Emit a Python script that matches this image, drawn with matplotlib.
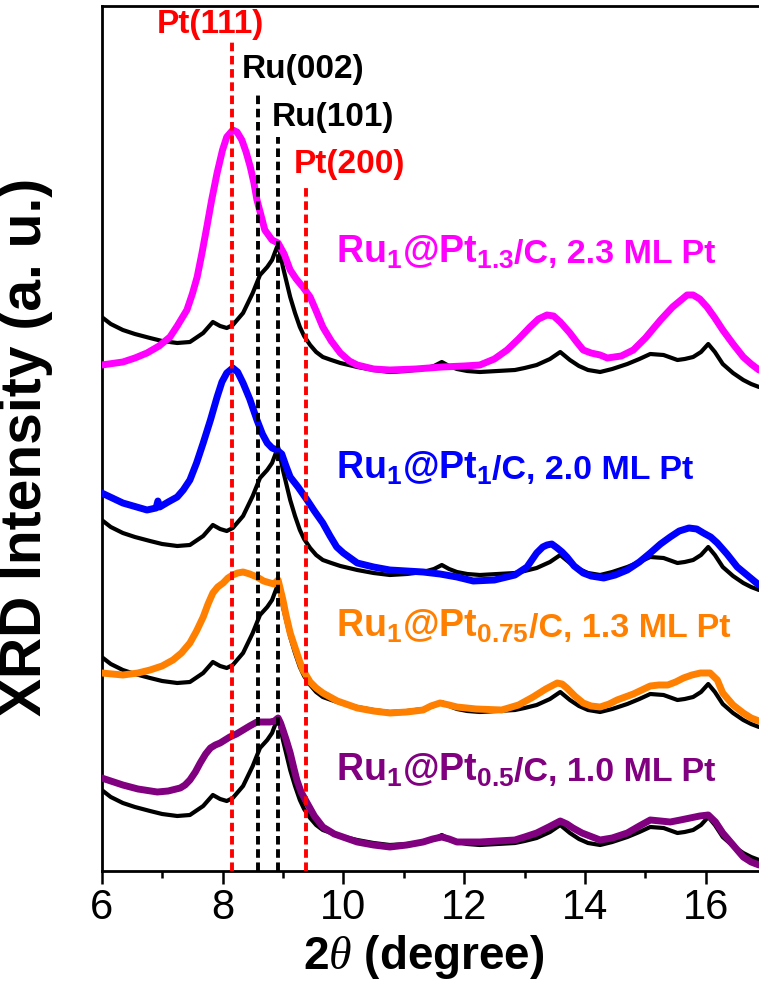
import numpy as np
import matplotlib
matplotlib.use("Agg")
import matplotlib.pyplot as plt

plt.rcParams['font.family'] = 'Liberation Sans'
plt.rcParams['mathtext.fontset'] = 'custom'
plt.rcParams['mathtext.rm'] = 'Liberation Sans'
plt.rcParams['mathtext.bf'] = 'Liberation Sans:bold'
plt.rcParams['mathtext.it'] = 'Liberation Serif:italic'

# Ru/C reference pattern (bottom copy), 2theta in degree, intensity a.u.
ru_x = [6.00, 6.15, 6.35, 6.55, 6.80, 7.00, 7.25, 7.46, 7.68, 7.84, 7.96, 8.07, 8.17, 8.34, 8.50,
        8.62, 8.74, 8.82, 8.92, 9.00, 9.12, 9.20, 9.28, 9.35, 9.45, 9.55, 9.66, 9.80, 9.95, 10.23,
        10.50, 10.77, 11.05, 11.32, 11.50, 11.63, 11.75, 11.88, 12.05, 12.26, 12.55, 12.84, 13.00,
        13.20, 13.42, 13.59, 13.75, 13.90, 14.05, 14.25, 14.45, 14.70, 14.90, 15.08, 15.30, 15.53,
        15.65, 15.79, 15.92, 16.04, 16.15, 16.28, 16.45, 16.62, 16.75, 16.88]
ru_y = [81, 74, 68, 64, 60, 57, 55, 56, 65, 76, 72, 70, 73, 85, 105,
        123, 131, 138, 154, 131, 101, 85, 71, 62, 53, 46, 41, 38, 35, 31,
        28, 26, 27, 29, 32, 36, 32, 29, 27, 26, 27, 28, 30,
        33, 39, 46, 38, 32, 28, 26, 29, 34, 39, 44, 43, 38,
        39, 41, 46, 54, 46, 34, 25, 18, 14, 11]
ru_offsets = [0, 133, 270, 473]

# Ru1@Pt0.5/C
pt05_x = [6.00, 6.15, 6.35, 6.60, 6.92, 7.10, 7.30, 7.38, 7.46, 7.55, 7.63, 7.72, 7.80, 7.88, 7.96,
          8.04, 8.12, 8.23, 8.34, 8.45, 8.57, 8.68, 8.79, 8.86, 8.92, 8.96, 9.00, 9.06, 9.12, 9.18,
          9.23, 9.30, 9.40, 9.52, 9.66, 9.85, 10.23, 10.50, 10.77, 11.05, 11.32, 11.48, 11.63,
          11.75, 11.88, 12.05, 12.26, 12.55, 12.84, 13.00, 13.20, 13.40, 13.59, 13.70, 13.80,
          13.95, 14.25, 14.45, 14.70, 14.90, 15.08, 15.25, 15.41, 15.58, 15.74, 15.90, 16.04,
          16.16, 16.28, 16.45, 16.62, 16.75, 16.88]
pt05_y = [93, 90, 86, 82, 79, 80, 83, 86, 91, 99, 108, 117, 123, 126, 128,
          131, 134, 137, 141, 145, 149, 149, 149, 150, 153, 148, 141, 130, 118, 103,
          91, 79, 68, 55, 44, 37, 29, 26, 24, 26, 29, 32, 34,
          32, 29, 29, 29, 30, 31, 34, 38, 44, 50, 47, 43,
          38, 31, 33, 38, 45, 51, 50, 49, 51, 53, 55, 56,
          49, 38, 26, 14, 9, 6]

# Ru1@Pt0.75/C
pt075_x = [6.00, 6.35, 6.60, 6.80, 7.00, 7.18, 7.32, 7.46, 7.57, 7.68, 7.76, 7.84, 7.92, 8.01, 8.09,
           8.17, 8.25, 8.34, 8.45, 8.57, 8.68, 8.79, 8.85, 8.92, 9.00, 9.05, 9.12, 9.18, 9.23, 9.28,
           9.33, 9.45, 9.55, 9.66, 9.90, 10.23, 10.50, 10.77, 11.05, 11.32, 11.45, 11.60, 11.75,
           11.88, 12.20, 12.62, 12.90, 13.14, 13.35, 13.54, 13.62, 13.70, 13.83, 13.97, 14.10,
           14.25, 14.40, 14.53, 14.80, 15.08, 15.22, 15.37, 15.50, 15.63, 15.77, 15.91, 15.99,
           16.07, 16.19, 16.28, 16.45, 16.62, 16.75, 16.88]
pt075_y = [198, 196, 198, 201, 205, 211, 218, 228, 240, 254, 267, 278, 284, 288, 293,
           296, 298, 299, 297, 294, 290, 288, 287, 291, 271, 256, 238, 227, 218, 209,
           201, 189, 183, 178, 170, 163, 160, 158, 159, 161, 165, 168, 166,
           164, 162, 161, 166, 174, 182, 188, 187, 183, 175, 168, 165,
           164, 167, 171, 177, 185, 186, 186, 189, 193, 196, 198, 198,
           198, 191, 178, 166, 158, 153, 150]

# Ru1@Pt1/C
pt1_x = [6.00, 6.35, 6.75, 6.90, 6.93, 6.96, 7.10, 7.25, 7.35, 7.46, 7.57, 7.68, 7.80, 7.91, 7.99,
         8.07, 8.17, 8.25, 8.34, 8.45, 8.57, 8.66, 8.74, 8.82, 8.90, 8.98, 9.05, 9.12, 9.25, 9.40,
         9.52, 9.66, 9.78, 9.89, 10.00, 10.23, 10.50, 10.77, 11.32, 11.60, 11.88, 12.15, 12.50,
         12.84, 13.04, 13.12, 13.20, 13.30, 13.37, 13.45, 13.54, 13.62, 13.70, 13.82, 13.97,
         14.10, 14.31, 14.50, 14.70, 14.90, 15.08, 15.25, 15.41, 15.56, 15.72, 15.85, 15.96,
         16.08, 16.19, 16.35, 16.52, 16.70, 16.88]
pt1_y = [378, 368, 361, 363, 370, 364, 369, 374, 381, 391, 408, 428, 451, 474, 489,
         498, 503, 499, 488, 472, 451, 437, 428, 423, 421, 417, 405, 394, 384, 371,
         360, 348, 335, 324, 318, 308, 304, 301, 299, 297, 294, 290, 291,
         296, 304, 311, 318, 324, 326, 327, 323, 319, 314, 305, 298,
         295, 293, 296, 301, 309, 318, 327, 334, 340, 343, 342, 338,
         334, 328, 317, 304, 295, 286]

# Ru1@Pt1.3/C
pt13_x = [6.00, 6.35, 6.55, 6.75, 6.95, 7.13, 7.25, 7.41, 7.50, 7.58, 7.66, 7.74, 7.82, 7.91, 8.00,
          8.07, 8.17, 8.24, 8.32, 8.39, 8.46, 8.52, 8.57, 8.64, 8.70, 8.76, 8.82, 8.92, 9.02, 9.12,
          9.22, 9.33, 9.45, 9.55, 9.66, 9.80, 9.95, 10.10, 10.23, 10.50, 10.77, 11.20, 11.63,
          12.00, 12.26, 12.50, 12.71, 12.90, 13.09, 13.23, 13.37, 13.48, 13.59, 13.75, 13.85,
          13.97, 14.10, 14.25, 14.37, 14.60, 14.80, 15.00, 15.25, 15.45, 15.69, 15.79, 15.90,
          16.02, 16.15, 16.28, 16.45, 16.62, 16.75, 16.88]
pt13_y = [506, 509, 513, 518, 525, 534, 545, 561, 577, 594, 618, 644, 671, 698, 721,
          734, 741, 739, 731, 719, 704, 688, 671, 655, 641, 636, 631, 628, 617, 601,
          592, 584, 574, 560, 544, 530, 518, 510, 506, 502, 501, 502, 504,
          505, 506, 512, 521, 532, 544, 552, 556, 555, 549, 538, 530,
          521, 518, 516, 513, 515, 521, 533, 551, 564, 576, 576, 572,
          564, 553, 541, 527, 514, 507, 501]

sample_x = [pt05_x, pt075_x, pt1_x, pt13_x]
sample_y = [pt05_y, pt075_y, pt1_y, pt13_y]
sample_colors = ['#800080', '#FF8000', '#0000FF', '#FF00FF']
sample_names = [r'$\mathbf{Ru_1@Pt_{0.5}}$', r'$\mathbf{Ru_1@Pt_{0.75}}$',
                r'$\mathbf{Ru_1@Pt_1}$', r'$\mathbf{Ru_1@Pt_{1.3}}$']
sample_notes = ['/C, 1.0 ML Pt', '/C, 1.3 ML Pt', '/C, 2.0 ML Pt', '/C, 2.3 ML Pt']
label_base = [90, 234, 392, 608]

# reference reflections
ref_names = ['Pt(111)', 'Ru(002)', 'Ru(101)', 'Pt(200)']
ref_pos = [8.15, 8.59, 8.91, 9.38]
ref_top = [829, 776, 734, 683]
ref_colors = ['#FF0000', 'black', 'black', '#FF0000']
ref_text_x = [6.91, 8.32, 8.81, 9.18]
ref_text_y = [838, 793, 745, 698]

fig = plt.figure(figsize=(7.59, 9.88), dpi=100)
ax = fig.add_axes([101.7 / 759, 117 / 988, 657.3 / 759, 865 / 988])
ax.set_xlim(6, 16.88)
ax.set_ylim(0, 865)

for off, sx, sy, c in zip(ru_offsets, sample_x, sample_y, sample_colors):
    ax.plot(ru_x, np.array(ru_y) + off, color='black', lw=3, zorder=2,
            solid_joinstyle='round', solid_capstyle='round')
    ax.plot(sx, sy, color=c, lw=5, zorder=3,
            solid_joinstyle='round', solid_capstyle='round')

for name, p, top, c, tx, ty in zip(ref_names, ref_pos, ref_top, ref_colors, ref_text_x, ref_text_y):
    ax.plot([p, p], [0, top], color=c, lw=2.8, ls=(0, (2.2, 1.2)), zorder=4)
    ax.text(tx, ty, name, color=c, fontsize=24, fontweight='bold', va='baseline', ha='left')

fig.canvas.draw()
renderer = fig.canvas.get_renderer()
for name, note, c, yb in zip(sample_names, sample_notes, sample_colors, label_base):
    t1 = ax.text(9.88, yb, name, color=c, fontsize=27, va='baseline', ha='left')
    bb = t1.get_window_extent(renderer)
    x_end = ax.transData.inverted().transform((bb.x1, 0))[0]
    ax.text(x_end, yb, note, color=c, fontsize=24.5, fontweight='bold', va='baseline', ha='left')

for s in ['left', 'top', 'bottom']:
    ax.spines[s].set_linewidth(2)
ax.spines['right'].set_visible(False)

ax.set_xticks([6, 8, 10, 12, 14, 16])
ax.set_xticks([7, 9, 11, 13, 15], minor=True)
ax.set_yticks([])
ax.tick_params(axis='x', which='major', direction='out', length=9, width=1.8, labelsize=30, pad=3)
ax.tick_params(axis='x', which='minor', direction='out', length=5, width=1.8)

ax.set_xlabel(r'$\mathbf{2}\theta$ (degree)', fontsize=33, fontweight='bold')
ax.xaxis.set_label_coords(0.49, -0.072)
ax.set_ylabel('XRD Intensity (a. u.)', fontsize=41, fontweight='bold')
ax.yaxis.set_label_coords(-0.074, 0.49)

fig.savefig('out.png', dpi=100)
